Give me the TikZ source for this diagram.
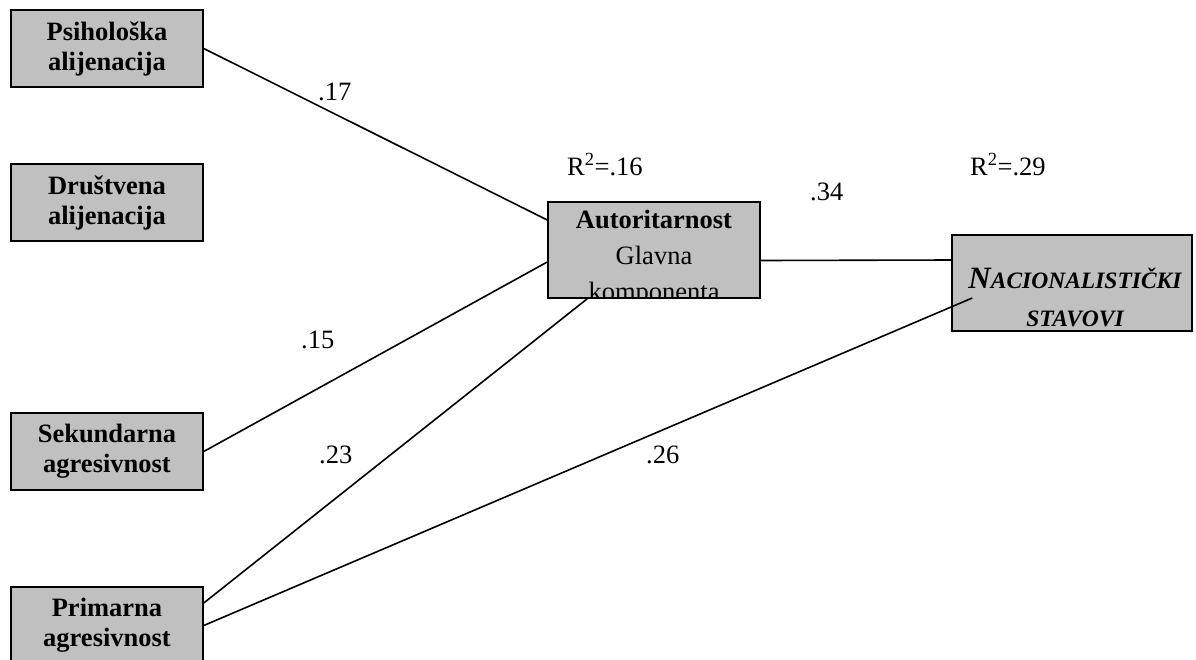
\documentclass[tikz,border=0pt]{standalone}
\usepackage{fontspec}
\setmainfont{Liberation Serif}
\usepackage{tikz}
\usetikzlibrary{positioning}

\definecolor{boxgray}{RGB}{192,192,192}
\tikzset{
  var/.style={draw=black, fill=boxgray, line width=1.5pt, minimum width=192pt,
    minimum height=77pt, inner sep=0pt, align=center,
    font=\fontsize{26.5}{30}\selectfont\bfseries},
  link/.style={line width=1.6pt},
  coef/.style={anchor=base west, inner sep=0pt, font=\fontsize{26.5}{30}\selectfont},
}

\begin{document}
\begin{tikzpicture}[x=1pt, y=-1pt]
	\useasboundingbox (0,0) rectangle (1196,659);
	% Define nodes
	\node[var] (psih) at (107,48.5)  {Psihološka\\alijenacija};
	\node[var] (drus) at (107,202.5) {Društvena\\alijenacija};
	\node[var] (sek)  at (107,451.5) {Sekundarna\\agresivnost};
	\node[var] (prim) at (107,625.5) {Primarna\\agresivnost};
	\node[var, minimum width=212pt, minimum height=96pt] (aut) at (654,250) {};
	\begin{scope}
		\clip (aut.north west) rectangle (aut.south east);
		\node[anchor=north, inner sep=0pt, align=center,
		  font=\fontsize{26.5}{36}\selectfont] (autlabel) at (654,210)
		  {\textbf{Autoritarnost}\\Glavna\\komponenta};
	\end{scope}
	\node[var, minimum width=240pt, minimum height=96pt] (nac) at (1072,283) {};
	% Edges
	\draw[link] (psih.east) -- ([yshift=30pt]aut.west);
	\draw[link] (sek.east) -- ([yshift=-12pt]aut.west);
	\draw[link] ([yshift=22.5pt]prim.east) -- ([xshift=40pt]aut.south west);
	\draw[link] (prim.east) -- ([xshift=21pt, yshift=-15pt]nac.west);
	\draw[link] ([yshift=-10.5pt]aut.east) -- ([yshift=23pt]nac.west);
	\node[anchor=north, inner sep=0pt, align=center,
	  font=\fontsize{23.5}{38}\selectfont\bfseries\itshape] (naclabel) at (1075,268)
	  {{\fontsize{31}{38}\selectfont N}ACIONALISTIČKI\\STAVOVI};
	% Coefficients
	\node[coef] (c17) at (318,100) {.17};
	\node[coef] (c15) at (301,348) {.15};
	\node[coef] (c23) at (319,463) {.23};
	\node[coef] (c26) at (646,463) {.26};
	\node[coef] (c34) at (810,200) {.34};
	\node[coef] (r16) at (567,175) {R\textsuperscript{2}=.16};
	\node[coef] (r29) at (970,175) {R\textsuperscript{2}=.29};
\end{tikzpicture}
\end{document}
